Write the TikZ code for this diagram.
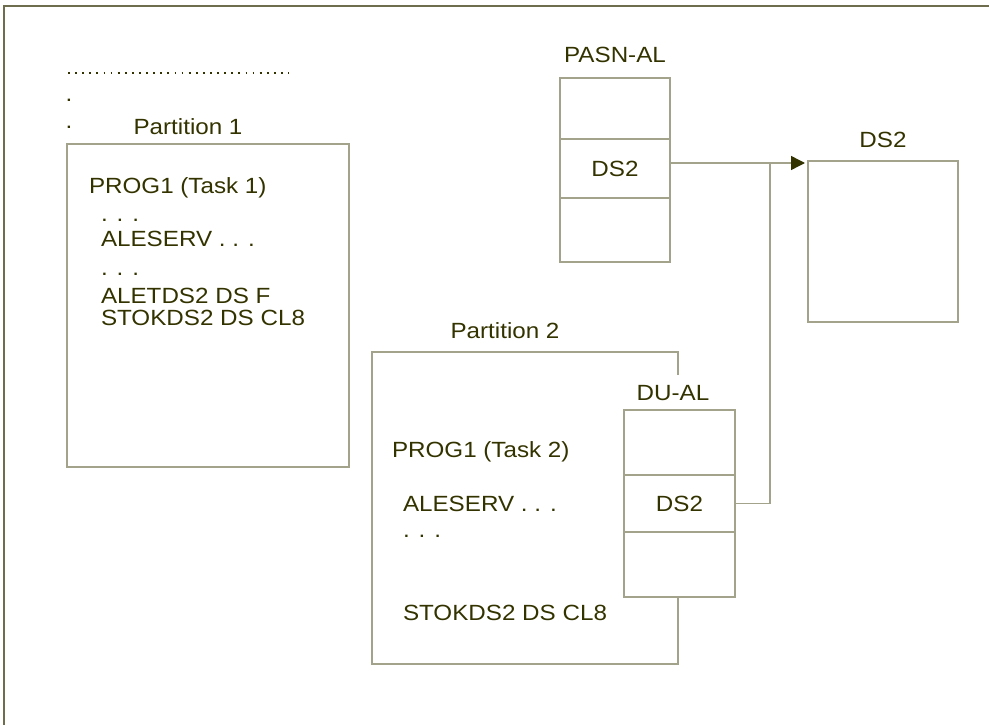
\documentclass[tikz,border=0pt]{standalone}
\usepackage{fontspec}
\setmainfont[FakeStretch=1.1]{Liberation Sans}
\usepackage{xcolor}
\usetikzlibrary{positioning, arrows.meta}
\definecolor{inkx}{HTML}{333300}
\definecolor{linex}{HTML}{A3A38C}
\definecolor{framex}{HTML}{6E6E4E}

\begin{document}
\begin{tikzpicture}[
  x=1pt, y=-1pt,
  node distance=0pt,
  font=\fontsize{22}{22}\selectfont,
  txt/.style={text=inkx, inner sep=0pt, outer sep=0pt},
  part/.style={draw=linex, line width=1.4pt, anchor=north west, inner sep=0pt, outer sep=0pt},
  cell/.style={draw=linex, line width=1.4pt, fill=white, minimum width=#1, inner sep=0pt, outer sep=0pt, text=inkx},
  arr/.style={draw=linex, line width=1.4pt},
]
\useasboundingbox (0,0) rectangle (989,725);
\draw[framex, line width=1.5pt] (4,725) -- (4,6) -- (989,6);

% partition 1
\coordinate (dl) at (68,73);
\coordinate (dr) at (289,73);
\draw[inkx, line width=1.8pt, dash pattern=on 1.8pt off 5.3pt] (dl) -- (dr);
\node[txt] (dot1) at (69,100) {.};
\node[txt] (dot2) at (69,127) {.};
\node[txt, anchor=base] (p1lbl) at (188,135) {Partition 1};
\node[part, minimum width=282pt, minimum height=323pt] (p1) at (67,144) {};
\node[txt, anchor=base west] (t1a) at (89,193) {PROG1 (Task 1)};
\node[txt, anchor=base west] (t1b) at (101,221) {. . .};
\node[txt, anchor=base west] (t1c) at (101,246) {ALESERV . . .};
\node[txt, anchor=base west] (t1d) at (101,275) {. . .};
\node[txt, anchor=base west] (t1e) at (101,303) {ALETDS2 DS F};
\node[txt, anchor=base west] (t1f) at (101,325) {STOKDS2 DS CL8};

% partition 2
\node[txt, anchor=base] (p2lbl) at (505,338) {Partition 2};
\node[part, minimum width=306pt, minimum height=312pt] (p2) at (372,352) {};
\node[txt, anchor=base west] (t2a) at (392,457) {PROG1 (Task 2)};
\node[txt, anchor=base west] (t2b) at (403,511) {ALESERV . . .};
\node[txt, anchor=base west] (t2c) at (403,537) {. . .};
\node[txt, anchor=base west] (t2d) at (403,620) {STOKDS2 DS CL8};

% DU-AL
\node[txt, fill=white, minimum height=36pt] (duallbl) at (673,393) {DU-AL};
\node[cell=111pt, minimum height=65pt, anchor=north west] (dual1) at (624,410) {};
\node[cell=111pt, minimum height=57pt, below=of dual1] (dual2) {DS2};
\node[cell=111pt, minimum height=65pt, below=of dual2] (dual3) {};

% PASN-AL
\node[cell=110pt, minimum height=61pt, anchor=north west] (pasn1) at (560,78) {};
\node[cell=110pt, minimum height=59pt, below=of pasn1] (pasn2) {DS2};
\node[cell=110pt, minimum height=64pt, below=of pasn2] (pasn3) {};
\node[txt, above=15pt of pasn1] (pasnlbl) {PASN-AL};

% data space
\node[part, minimum width=150pt, minimum height=161pt] (ds2box) at (808,161) {};
\node[txt, above=13pt of ds2box] (ds2lbl) {DS2};

\coordinate (jn) at (770,163);
\draw[arr, -{Triangle[length=14pt, width=14pt, color=inkx]}, shorten >=3pt] (pasn2.east |- jn) -- (ds2box.west |- jn);
\draw[arr] (dual2.east) -| (jn);
\end{tikzpicture}
\end{document}
